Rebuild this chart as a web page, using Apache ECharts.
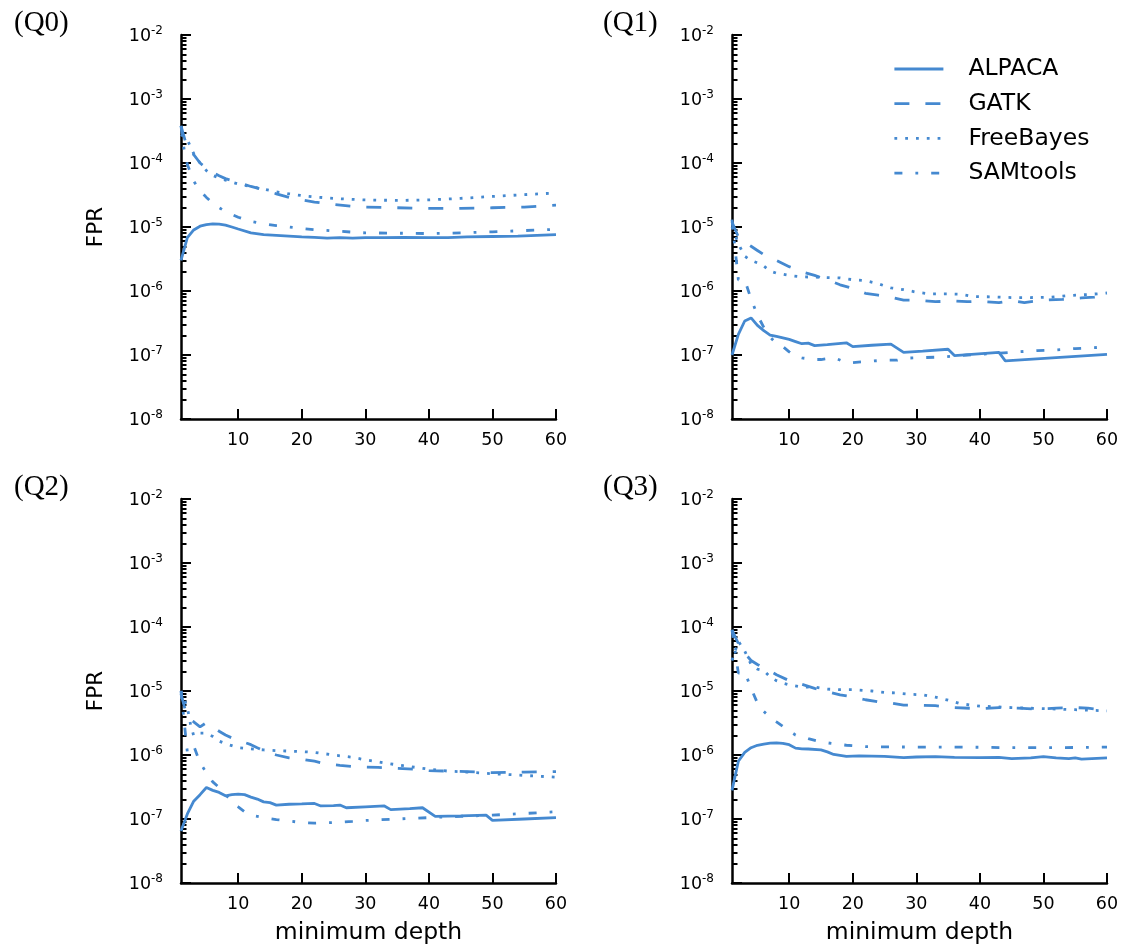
<!DOCTYPE html>
<html>
<head>
<meta charset="utf-8">
<script src="https://cdn.jsdelivr.net/npm/echarts@6/dist/echarts.min.js"></script>
<style>
html,body{margin:0;padding:0;background:#fff;}
#chart{width:1134px;height:947px;}
</style>
</head>
<body>
<div id="chart"></div>
<script>
// ---------- data (x = minimum depth, y = FPR) ----------
const PANEL_TITLES = ['(Q0)', '(Q1)', '(Q2)', '(Q3)'];
const METHODS = ['ALPACA', 'GATK', 'FreeBayes', 'SAMtools'];
const X_TICKS = [10, 20, 30, 40, 50, 60];
const Y_MIN = 1e-8, Y_MAX = 1e-2;

const Q0_ALPACA = [[1,3.0e-6],[2,6.8e-6],[3,9.0e-6],[4,1.03e-5],[5,1.09e-5],[6,1.12e-5],[7,1.11e-5],[8,1.07e-5],[9,1.0e-5],[10,9.3e-6],[12,8.1e-6],[14,7.6e-6],[16,7.4e-6],[18,7.2e-6],[20,7.0e-6],[22,6.9e-6],[24,6.7e-6],[26,6.8e-6],[28,6.7e-6],[30,6.8e-6],[33,6.8e-6],[36,6.9e-6],[40,6.8e-6],[43,6.8e-6],[46,7.0e-6],[50,7.1e-6],[54,7.2e-6],[57,7.4e-6],[60,7.6e-6]];
const Q0_GATK = [[1,3.8e-4],[2,1.7e-4],[3,1.35e-4],[4,1.0e-4],[5,8.3e-5],[6,7.1e-5],[7,6.3e-5],[8,5.7e-5],[10,5.0e-5],[12,4.3e-5],[14,3.8e-5],[16,3.3e-5],[18,2.9e-5],[20,2.65e-5],[22,2.45e-5],[25,2.25e-5],[28,2.1e-5],[30,2.05e-5],[35,2.0e-5],[40,1.95e-5],[45,1.95e-5],[50,2.0e-5],[55,2.05e-5],[60,2.2e-5]];
const Q0_FREEBAYES = [[1,2.8e-4],[2,2.3e-4],[3,1.4e-4],[4,1.0e-4],[5,7.6e-5],[6,6.4e-5],[7,5.8e-5],[8,5.4e-5],[10,4.7e-5],[12,4.3e-5],[14,3.9e-5],[16,3.55e-5],[18,3.3e-5],[20,3.1e-5],[22,2.95e-5],[25,2.8e-5],[28,2.7e-5],[30,2.65e-5],[35,2.6e-5],[40,2.65e-5],[45,2.8e-5],[50,3.0e-5],[55,3.2e-5],[60,3.4e-5]];
const Q0_SAMTOOLS = [[1,3.8e-4],[1.5,1.6e-4],[2,9.5e-5],[3,5.2e-5],[4,3.7e-5],[5,2.9e-5],[6,2.35e-5],[7,2.0e-5],[8,1.75e-5],[10,1.42e-5],[12,1.22e-5],[14,1.12e-5],[16,1.05e-5],[18,1.0e-5],[20,9.5e-6],[22,9.1e-6],[25,8.7e-6],[28,8.3e-6],[30,8.1e-6],[35,8.0e-6],[40,7.9e-6],[45,8.1e-6],[50,8.4e-6],[55,8.8e-6],[60,9.2e-6]];

const Q1_ALPACA = [[1,1.0e-7],[2,2.1e-7],[3,3.4e-7],[4,3.8e-7],[5,2.9e-7],[6,2.4e-7],[7,2.05e-7],[8,1.95e-7],[9,1.85e-7],[10,1.75e-7],[11,1.62e-7],[12,1.5e-7],[13,1.53e-7],[14,1.4e-7],[16,1.45e-7],[19,1.55e-7],[20,1.35e-7],[23,1.42e-7],[26,1.48e-7],[28,1.1e-7],[31,1.15e-7],[35,1.23e-7],[36,9.8e-8],[43,1.1e-7],[44,8.1e-8],[60,1.02e-7]];
const Q1_GATK = [[1,1.2e-5],[2,7.0e-6],[3,5.8e-6],[4,5.0e-6],[5,4.3e-6],[6,3.7e-6],[7,3.4e-6],[8,3.0e-6],[10,2.4e-6],[12,2.0e-6],[14,1.75e-6],[16,1.5e-6],[18,1.25e-6],[20,1.1e-6],[22,9.2e-7],[24,8.6e-7],[26,8.0e-7],[28,7.2e-7],[30,7.2e-7],[33,6.8e-7],[36,7.0e-7],[38,6.8e-7],[40,6.9e-7],[43,6.6e-7],[45,7.1e-7],[47,6.6e-7],[50,7.2e-7],[53,7.4e-7],[56,7.8e-7],[58,8.0e-7],[60,8.6e-7]];
const Q1_FREEBAYES = [[1,1.0e-5],[2,5.5e-6],[3,3.5e-6],[4,3.0e-6],[5,2.75e-6],[6,2.45e-6],[7,2.05e-6],[8,1.9e-6],[10,1.75e-6],[12,1.66e-6],[14,1.65e-6],[16,1.62e-6],[18,1.6e-6],[20,1.5e-6],[22,1.45e-6],[24,1.3e-6],[26,1.12e-6],[28,1.05e-6],[30,9.6e-7],[32,9.0e-7],[35,9.0e-7],[37,8.9e-7],[39,8.2e-7],[42,8.1e-7],[45,7.9e-7],[48,7.9e-7],[51,8.0e-7],[54,8.5e-7],[57,8.8e-7],[60,9.3e-7]];
const Q1_SAMTOOLS = [[1,1.3e-5],[2,1.5e-6],[3,1.5e-6],[4,7.5e-7],[5,4.2e-7],[6,2.7e-7],[7,1.9e-7],[8,1.5e-7],[9,1.35e-7],[10,1.12e-7],[11,9.5e-8],[12,9.0e-8],[14,8.5e-8],[15,8.5e-8],[17,9.1e-8],[19,7.6e-8],[20,7.6e-8],[22,7.9e-8],[25,8.3e-8],[27,8.3e-8],[28,8.9e-8],[31,9.1e-8],[34,9.3e-8],[38,1.0e-7],[42,1.05e-7],[46,1.12e-7],[49,1.17e-7],[52,1.2e-7],[55,1.26e-7],[58,1.3e-7],[60,1.35e-7]];

const Q2_ALPACA = [[1,6.5e-8],[2,1.2e-7],[3,1.9e-7],[4,2.4e-7],[5,3.1e-7],[6,2.8e-7],[7,2.6e-7],[8,2.3e-7],[9,2.4e-7],[10,2.45e-7],[11,2.4e-7],[12,2.2e-7],[13,2.05e-7],[14,1.85e-7],[15,1.8e-7],[16,1.65e-7],[18,1.7e-7],[20,1.72e-7],[22,1.75e-7],[23,1.6e-7],[25,1.62e-7],[26,1.65e-7],[27,1.5e-7],[30,1.55e-7],[33,1.6e-7],[34,1.4e-7],[37,1.45e-7],[39,1.5e-7],[41,1.1e-7],[45,1.12e-7],[49,1.15e-7],[50,9.5e-8],[55,1.0e-7],[60,1.05e-7]];
const Q2_GATK = [[1,9.0e-6],[2,3.8e-6],[3,3.3e-6],[4,2.75e-6],[5,3.2e-6],[6,2.75e-6],[7,2.35e-6],[8,2.05e-6],[9,1.85e-6],[10,1.7e-6],[12,1.45e-6],[13,1.3e-6],[14,1.17e-6],[16,1.0e-6],[18,9.0e-7],[20,8.6e-7],[22,8.0e-7],[24,7.2e-7],[26,6.9e-7],[29,6.5e-7],[32,6.4e-7],[35,6.2e-7],[38,6.0e-7],[40,5.7e-7],[43,5.6e-7],[46,5.5e-7],[50,5.3e-7],[55,5.4e-7],[60,5.5e-7]];
const Q2_FREEBAYES = [[1,1.0e-5],[2,5.5e-6],[2.5,3.0e-6],[3,2.0e-6],[4,2.2e-6],[5,2.2e-6],[6,1.95e-6],[7,1.65e-6],[8,1.5e-6],[9,1.4e-6],[10,1.3e-6],[12,1.25e-6],[14,1.2e-6],[16,1.17e-6],[18,1.15e-6],[20,1.13e-6],[22,1.1e-6],[25,1.0e-6],[28,9.2e-7],[30,8.4e-7],[33,7.5e-7],[36,6.8e-7],[40,6.0e-7],[43,5.6e-7],[46,5.4e-7],[50,5.1e-7],[55,4.8e-7],[60,4.5e-7]];
const Q2_SAMTOOLS = [[1,1.0e-5],[2,1.1e-6],[3,1.4e-6],[4,7.5e-7],[5,5.3e-7],[6,3.8e-7],[7,3.1e-7],[8,2.4e-7],[9,1.9e-7],[10,1.55e-7],[11,1.3e-7],[12,1.15e-7],[14,1.05e-7],[16,9.8e-8],[18,9.3e-8],[20,8.8e-8],[22,8.6e-8],[25,8.8e-8],[28,9.2e-8],[30,9.5e-8],[35,1.0e-7],[40,1.05e-7],[45,1.1e-7],[50,1.15e-7],[55,1.22e-7],[60,1.3e-7]];

const Q3_ALPACA = [[1,2.8e-7],[2,8.0e-7],[3,1.1e-6],[4,1.3e-6],[5,1.42e-6],[6,1.48e-6],[7,1.53e-6],[8,1.55e-6],[9,1.52e-6],[10,1.45e-6],[11,1.28e-6],[12,1.25e-6],[13,1.24e-6],[15,1.2e-6],[16,1.12e-6],[17,1.02e-6],[19,9.5e-7],[21,9.7e-7],[23,9.6e-7],[25,9.5e-7],[28,9.1e-7],[30,9.3e-7],[33,9.4e-7],[36,9.2e-7],[40,9.1e-7],[43,9.2e-7],[45,8.8e-7],[48,9.0e-7],[50,9.4e-7],[52,9.0e-7],[54,8.8e-7],[55,9.0e-7],[56,8.6e-7],[60,9.0e-7]];
const Q3_GATK = [[1,9.0e-5],[2,5.5e-5],[3,3.9e-5],[4,3.0e-5],[5,2.6e-5],[6,2.3e-5],[7,2.05e-5],[8,1.8e-5],[10,1.45e-5],[12,1.27e-5],[14,1.1e-5],[16,9.8e-6],[18,8.7e-6],[20,8.1e-6],[22,7.3e-6],[24,6.8e-6],[26,6.5e-6],[28,6.0e-6],[30,6.0e-6],[33,5.9e-6],[36,5.5e-6],[40,5.3e-6],[43,5.5e-6],[46,5.4e-6],[49,5.2e-6],[52,5.4e-6],[55,5.5e-6],[57,5.4e-6],[60,5.0e-6]];
const Q3_FREEBAYES = [[1,3.0e-5],[2,6.0e-5],[3,4.2e-5],[4,2.6e-5],[5,2.2e-5],[6,2.1e-5],[7,1.65e-5],[8,1.45e-5],[9,1.33e-5],[10,1.25e-5],[12,1.15e-5],[14,1.15e-5],[16,1.07e-5],[18,1.05e-5],[20,1.05e-5],[23,1.0e-5],[25,9.5e-6],[27,9.3e-6],[29,8.9e-6],[31,8.7e-6],[33,8.0e-6],[35,7.2e-6],[37,6.3e-6],[40,5.8e-6],[45,5.5e-6],[50,5.3e-6],[55,5.1e-6],[60,4.9e-6]];
const Q3_SAMTOOLS = [[1,9.0e-5],[2,1.9e-5],[3,2.0e-5],[4,1.1e-5],[5,6.5e-6],[6,4.8e-6],[7,3.9e-6],[8,3.3e-6],[9,2.8e-6],[10,2.4e-6],[11,2.05e-6],[13,1.8e-6],[15,1.6e-6],[17,1.5e-6],[19,1.42e-6],[22,1.35e-6],[25,1.34e-6],[30,1.33e-6],[35,1.33e-6],[40,1.32e-6],[45,1.3e-6],[50,1.3e-6],[55,1.31e-6],[60,1.33e-6]];

const PANEL_DATA = [
  [Q0_ALPACA, Q0_GATK, Q0_FREEBAYES, Q0_SAMTOOLS],
  [Q1_ALPACA, Q1_GATK, Q1_FREEBAYES, Q1_SAMTOOLS],
  [Q2_ALPACA, Q2_GATK, Q2_FREEBAYES, Q2_SAMTOOLS],
  [Q3_ALPACA, Q3_GATK, Q3_FREEBAYES, Q3_SAMTOOLS]
];

// ---------- styling ----------
const FONT = 'DejaVu Sans';
const LINE_COLOR = '#4589d0';
const LINE_W = 2.8;
const DASHES = ['solid', [15, 16], [2.8, 8], [8, 13, 2.8, 13]];
const GRID_LEFT = [181, 732];
const GRID_TOP = [35, 499];
const GRID_W = 375, GRID_H = 384;

const minorTicks = [];
for (let e = -8; e < -2; e++) for (let m = 2; m <= 9; m++) minorTicks.push(+(m * Math.pow(10, e)).toPrecision(3));
const majorTicks = [];
for (let e = -8; e <= -2; e++) majorTicks.push(+Math.pow(10, e).toPrecision(3));

function logLabel(v) {
  const e = Math.round(Math.log10(v));
  return '{b|10}{s|' + e + '}';
}

const grids = [], xAxes = [], yAxes = [], series = [], titles = [];
for (let p = 0; p < 4; p++) {
  const col = p % 2, row = Math.floor(p / 2);
  grids.push({ left: GRID_LEFT[col], top: GRID_TOP[row], width: GRID_W, height: GRID_H, containLabel: false, outerBoundsMode: 'none' });
  xAxes.push({
    type: 'value', gridIndex: p, min: 1, max: 60, position: 'bottom',
    name: row === 1 ? 'minimum depth' : '',
    nameLocation: 'middle', nameGap: 38,
    nameTextStyle: { fontFamily: FONT, fontSize: 23.5, color: '#000' },
    axisLine: { show: true, onZero: false, lineStyle: { color: '#000', width: 2.5 } },
    axisTick: { show: true, inside: true, length: 10, lineStyle: { color: '#000', width: 2 }, customValues: X_TICKS },
    axisLabel: { show: true, margin: 12, fontFamily: FONT, fontSize: 17.5, color: '#000', customValues: X_TICKS },
    splitLine: { show: false }
  });
  yAxes.push({
    type: 'log', logBase: 10, gridIndex: p, min: Y_MIN, max: Y_MAX, position: 'left',
    name: col === 0 ? 'FPR' : '',
    nameLocation: 'middle', nameGap: 74, nameRotate: 90,
    nameTextStyle: { fontFamily: FONT, fontSize: 21.5, color: '#000' },
    axisLine: { show: true, onZero: false, lineStyle: { color: '#000', width: 2.5 } },
    axisTick: { show: true, inside: true, length: 10, lineStyle: { color: '#000', width: 2 }, customValues: majorTicks },
    axisLabel: {
      show: true, margin: 18, showMinLabel: true, showMaxLabel: true, hideOverlap: false,
      customValues: majorTicks,
      formatter: logLabel,
      rich: {
        b: { fontFamily: FONT, fontSize: 17.5, color: '#000', lineHeight: 20, verticalAlign: 'bottom' },
        s: { fontFamily: FONT, fontSize: 12, color: '#000', lineHeight: 8, verticalAlign: 'top' }
      }
    },
    splitLine: { show: false }
  });
  yAxes.push({
    type: 'log', logBase: 10, gridIndex: p, min: Y_MIN, max: Y_MAX, position: 'left', offset: 0,
    axisLine: { show: false },
    axisTick: { show: true, inside: true, length: 5.5, lineStyle: { color: '#000', width: 2 }, customValues: minorTicks },
    axisLabel: { show: false },
    splitLine: { show: false }
  });
  titles.push({
    text: PANEL_TITLES[p], left: col === 0 ? 9 : 598, top: row === 0 ? 4 : 468,
    textStyle: { fontFamily: 'Liberation Serif', fontSize: 29, fontWeight: 'normal', color: '#000' }
  });
  PANEL_DATA[p].forEach((d, m) => {
    series.push({
      name: METHODS[m], type: 'line', xAxisIndex: p, yAxisIndex: 2 * p,
      data: d, symbol: 'none', showSymbol: false, smooth: false, clip: true,
      lineStyle: { color: LINE_COLOR, width: LINE_W, type: DASHES[m], cap: 'butt' },
      itemStyle: { color: LINE_COLOR },
      emphasis: { disabled: true },
      animation: false
    });
  });
}

const chart = echarts.init(document.getElementById('chart'), null, { renderer: 'canvas' });
chart.setOption({
  backgroundColor: '#fff',
  animation: false,
  title: titles,
  grid: grids,
  xAxis: xAxes,
  yAxis: yAxes,
  legend: {
    data: METHODS, orient: 'vertical', left: 893, top: 57, padding: 0,
    itemWidth: 49, itemHeight: 14, itemGap: 10.7,
    itemStyle: { opacity: 0 },
    lineStyle: { width: LINE_W },
    selectedMode: false,
    textStyle: { fontFamily: FONT, fontSize: 23.5, color: '#000', lineHeight: 24, padding: [0, 0, 0, 20] }
  },
  series: series
});
</script>
</body>
</html>
